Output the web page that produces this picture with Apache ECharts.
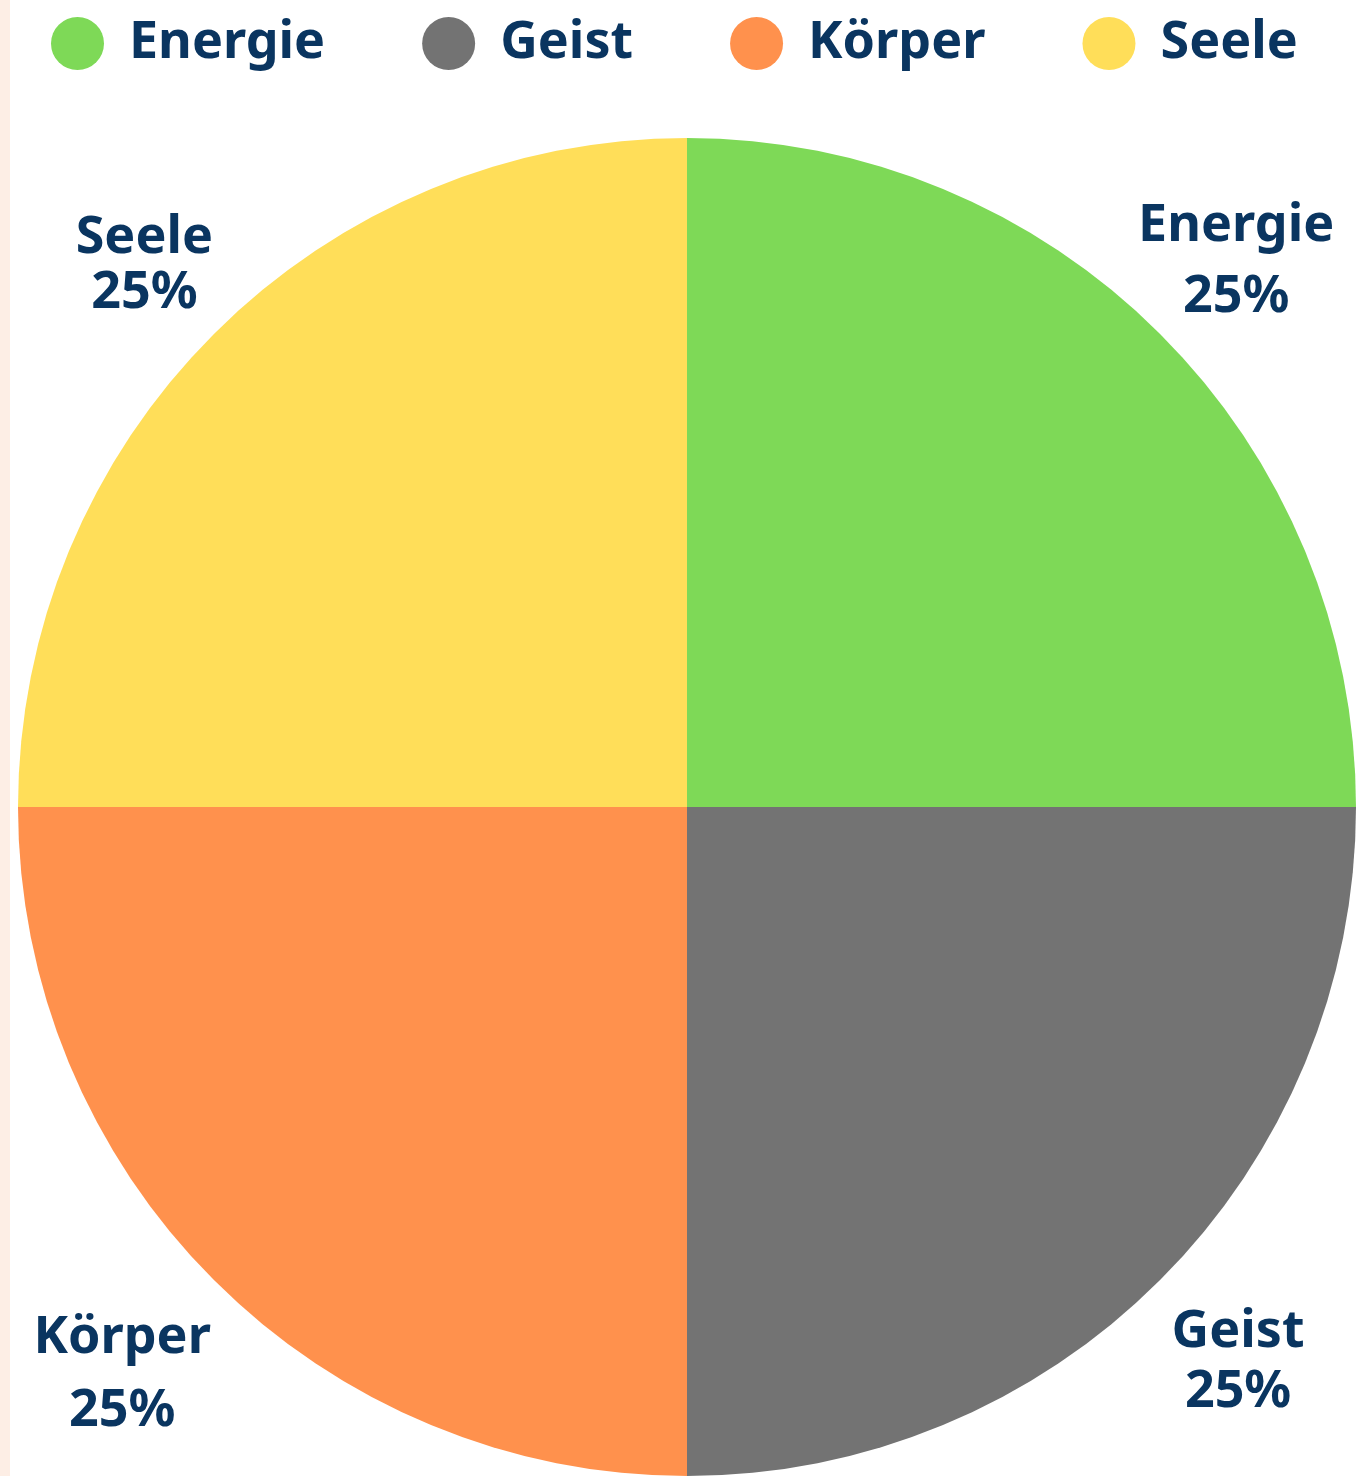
<!DOCTYPE html>
<html><head><meta charset="utf-8">
<script src="https://cdn.jsdelivr.net/npm/echarts@6/dist/echarts.min.js"></script>
<style>
html,body{margin:0;padding:0;}
body{background:linear-gradient(to right,#fdeee5 0,#fdeee5 10px,#ffffff 10px);}
#chart{width:1357px;height:1476px;}
</style></head><body><div id="chart"></div>
<script>
const categories = ['Energie', 'Geist', 'Körper', 'Seele'];
const values = [25, 25, 25, 25];
const colors = ['#7ed957', '#737373', '#ff914d', '#ffde59'];
// label placement tweaks per slice (distance from rim, horizontal shift, line spacing)
const labelTweaks = [
  { len: 102, len2: -121, lh: 71 },
  { len: 116, len2: -129, lh: 60 },
  { len: 134, len2: -128, lh: 73 },
  { len: 97, len2: -124, lh: 55 }
];
const textColor = '#0a3560';
const fontFamily = '"Noto Sans", sans-serif';

const chart = echarts.init(document.getElementById('chart'), null, { renderer: 'canvas' });
const data = categories.map((name, i) => ({
  name: name,
  value: values[i],
  itemStyle: { color: colors[i] },
  label: {
    rich: {
      t: { width: 240, align: 'center', lineHeight: labelTweaks[i].lh, fontSize: 52, fontWeight: 'bold', color: textColor, fontFamily: fontFamily }
    }
  },
  labelLine: { show: false, length: labelTweaks[i].len, length2: labelTweaks[i].len2 }
}));
chart.setOption({
  animation: false,
  legend: {
    left: 46, top: 12,
    icon: 'circle',
    itemWidth: 53, itemHeight: 53,
    itemGap: 97,
    selectedMode: false,
    textStyle: { fontSize: 52, fontWeight: 'bold', color: textColor, fontFamily: fontFamily, padding: [0, 0, 10, 20] },
    data: categories
  },
  series: [{
    type: 'pie',
    center: [687, 807],
    radius: 669,
    startAngle: 90,
    clockwise: true,
    avoidLabelOverlap: false,
    emphasis: { disabled: true },
    label: {
      show: true,
      position: 'outside',
      formatter: '{t|{b}}\n{t|{d}%}'
    },
    labelLine: { show: false },
    data: data
  }]
});
</script></body></html>
